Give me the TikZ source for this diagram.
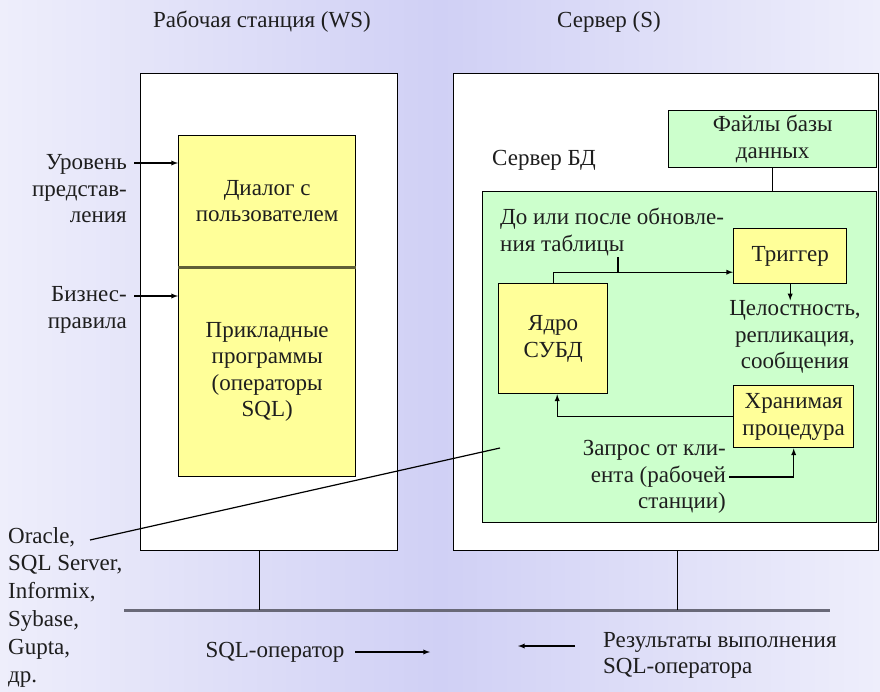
\documentclass[tikz,border=0pt]{standalone}
\usepackage{fontspec}
\setmainfont{Liberation Serif}
\usepackage{xcolor}
\usetikzlibrary{arrows, positioning, calc}
\definecolor{bglav}{RGB}{208,208,245}
\definecolor{bgpale}{RGB}{238,238,251}
\definecolor{boxyellow}{RGB}{255,255,153}
\definecolor{boxgreen}{RGB}{204,255,204}
\definecolor{netgray}{RGB}{105,105,120}
\definecolor{inkgray}{RGB}{30,30,30}
\definecolor{seamolive}{RGB}{95,95,55}
\tikzstyle{frame} = [rectangle, draw=black, line width=1.4pt, fill=white, inner sep=0pt, anchor=north west]
\tikzstyle{yellowbox} = [frame, fill=boxyellow, align=center, text=inkgray]
\tikzstyle{greenbox} = [frame, fill=boxgreen, align=center, text=inkgray]
\tikzstyle{txt} = [inner sep=0pt, align=center, text=inkgray]
\tikzstyle{arrow} = [line width=1.3pt, ->, >=latex]
\tikzstyle{link} = [line width=1.2pt]
\tikzstyle{net} = [line width=3pt, netgray]

\begin{document}
\begin{tikzpicture}[x=1pt, y=-1pt, font=\fontsize{23}{26.5}\selectfont]
      \shade[left color=bgpale, right color=bgpale, middle color=bglav] (0,0) rectangle (880,692);
      \useasboundingbox (0,0) rectangle (880,692);

      % titles
      \node[txt, anchor=west] (wstitle) at (153,22) {Рабочая станция (WS)};
      \node[txt, anchor=west] (srvtitle) at (557,22) {Сервер (S)};

      % workstation
      \node[frame, minimum width=257pt, minimum height=477pt] (ws) at (140,73) {};
      \node[yellowbox, minimum width=177pt, minimum height=131pt] (dialog) at (178,135) {Диалог с\\пользователем};
      \node[yellowbox, minimum width=177pt, minimum height=210pt] (apps) at (178,266) {Прикладные\\программы\\(операторы\\SQL)};
      \draw[line width=2.4pt, seamolive] (dialog.south west) -- (dialog.south east);

      \node[txt, align=right, anchor=east] (lvl) at (127,189) {Уровень\\представ-\\ления};
      \coordinate (lvlA) at (134,163);
      \draw[arrow] (lvlA) -- (lvlA -| dialog.west);
      \node[txt, align=right, anchor=east] (biz) at (127,310) {Бизнес-\\правила};
      \coordinate (bizA) at (134,296);
      \draw[arrow] (bizA) -- (bizA -| apps.west);

      % server
      \node[frame, minimum width=425pt, minimum height=477pt] (srv) at (453,73) {};
      \node[greenbox, minimum width=208pt, minimum height=57pt] (files) at (668,110) {Файлы базы\\данных};
      \node[txt, anchor=west] (dbsrvlbl) at (492,160) {Сервер БД};
      \node[greenbox, minimum width=394pt, minimum height=331pt] (dbsrv) at (482,191) {};
      \draw[link] (files.south) -- (files.south |- dbsrv.north);

      \node[txt, align=left, anchor=west] (when) at (500,232) {До или после обновле-\\ния таблицы};
      \node[yellowbox, minimum width=113pt, minimum height=55pt] (trig) at (733,228) {Триггер};
      \node[yellowbox, minimum width=109pt, minimum height=110pt] (core) at (498,283) {Ядро\\СУБД};
      \coordinate (hook) at ([yshift=-16pt]trig.west);
      \draw[arrow] (core.north) |- (hook);
      \coordinate (whenStem) at (618,257);
      \draw[link] (whenStem) -- (whenStem |- hook);
      \node[txt] (integ) at (795,337) {Целостность,\\репликация,\\сообщения};
      \draw[arrow] (trig.south) -- (trig.south |- integ.north);
      \node[yellowbox, minimum width=120pt, minimum height=62pt] (proc) at (733,385) {Хранимая\\процедура};
      \draw[arrow] (proc.west) -| ([xshift=4pt]core.south);
      \node[txt, align=right, anchor=east] (req) at (726,477) {Запрос от кли-\\ента (рабочей\\станции)};
      \draw[arrow] ([xshift=3pt]req.east) -| (proc.south);

      % dbms list
      \node[txt, align=left, anchor=north west, font=\fontsize{23}{27.8}\selectfont] (dbms) at (8,527) {Oracle,\\SQL Server,\\Informix,\\Sybase,\\Gupta,\\др.};
      \coordinate (oraEnd) at (90,540);
      \coordinate (oraTip) at (500,448);
      \draw[link] (oraEnd) -- (oraTip);

      % network
      \coordinate (netL) at (124,610);
      \coordinate (netR) at (830,610);
      \draw[net] (netL) -- (netR);
      \draw[link] ([xshift=-10pt]ws.south) -- ([xshift=-10pt]ws.south |- netL);
      \draw[link] ([xshift=11pt]srv.south) -- ([xshift=11pt]srv.south |- netL);

      \node[txt] (sqlop) at (275,652) {SQL-оператор};
      \coordinate (sendA) at (355,652);
      \coordinate (sendB) at (430,652);
      \draw[arrow] (sendA) -- (sendB);
      \node[txt, align=left, anchor=north west] (result) at (603,632) {Результаты выполнения\\SQL-оператора};
      \coordinate (backA) at (575,646);
      \coordinate (backB) at (518,646);
      \draw[arrow] (backA) -- (backB);
    \end{tikzpicture}
\end{document}
